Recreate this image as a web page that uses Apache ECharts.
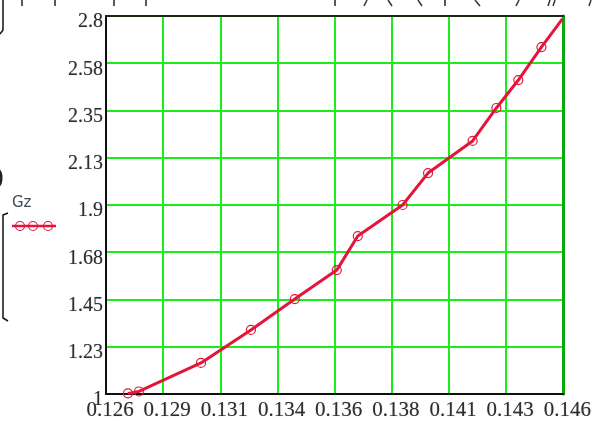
<!DOCTYPE html>
<html>
<head>
<meta charset="utf-8">
<script src="https://cdn.jsdelivr.net/npm/echarts@6/dist/echarts.min.js"></script>
<style>
html,body{margin:0;padding:0;background:#fff;}
#c{width:594px;height:430px;}
</style>
</head>
<body>
<div id="c"></div>
<script>
// ---- data ----
var gzX = [0.12714, 0.12761, 0.13027, 0.13241, 0.13429, 0.13609, 0.13699, 0.13891, 0.14000, 0.14191, 0.14293, 0.14387, 0.14486, 0.14576];
var gzY = [1.003, 1.012, 1.148, 1.305, 1.452, 1.590, 1.752, 1.900, 2.052, 2.205, 2.362, 2.495, 2.652, 2.786];
var xTickLabels = ['0.126','0.129','0.131','0.134','0.136','0.138','0.141','0.143','0.146'];
var yTickLabels = ['1','1.23','1.45','1.68','1.9','2.13','2.35','2.58','2.8'];
var seriesName = 'Gz';

var X_MIN = 0.1262, X_MAX = 0.1458, X_INT = 0.00245;
var Y_MIN = 1, Y_MAX = 2.8, Y_INT = 0.225;

var RED = '#e3163a';
var GREEN = '#18ee18';

var data = gzX.map(function (x, i) {
  var item = { value: [x, gzY[i]] };
  if (i === gzX.length - 1) item.symbol = 'none';
  return item;
});

function xFmt(v) {
  var i = Math.round((v - X_MIN) / X_INT);
  return xTickLabels[i] !== undefined ? xTickLabels[i] : '';
}
function yFmt(v) {
  var i = Math.round((v - Y_MIN) / Y_INT);
  return yTickLabels[i] !== undefined ? yTickLabels[i] : '';
}

var chart = echarts.init(document.getElementById('c'), null, { renderer: 'canvas' });
var labelFont = {
  fontFamily: 'Liberation Serif', color: '#2e2e2e',
  textShadowColor: 'rgba(60,60,60,0.45)', textShadowBlur: 1
};

var option = {
  backgroundColor: '#ffffff',
  animation: false,
  grid: { left: 106, right: 30, top: 16, bottom: 36, containLabel: false },
  xAxis: [{
    type: 'value', min: X_MIN, max: X_MAX, interval: X_INT, position: 'bottom',
    axisLine: { show: true, onZero: false, lineStyle: { color: '#101010', width: 2 } },
    axisTick: { show: false },
    splitLine: { show: true, lineStyle: { color: GREEN, width: 2 } },
    axisLabel: Object.assign({ formatter: xFmt, fontSize: 21, margin: 6, padding: [0, 0, 0, 8] }, labelFont)
  }, {
    type: 'value', min: X_MIN, max: X_MAX, interval: X_INT, position: 'top',
    axisLine: { show: true, onZero: false, lineStyle: { color: '#1a2a14', width: 2 } },
    axisTick: { show: false }, splitLine: { show: false }, axisLabel: { show: false }
  }],
  yAxis: [{
    type: 'value', min: Y_MIN, max: Y_MAX, interval: Y_INT, position: 'left',
    axisLine: { show: true, onZero: false, lineStyle: { color: '#101010', width: 2 } },
    axisTick: { show: false },
    splitLine: { show: true, lineStyle: { color: GREEN, width: 2 } },
    axisLabel: Object.assign({ formatter: yFmt, fontSize: 20, margin: 3, verticalAlign: 'top', lineHeight: 12 }, labelFont)
  }, {
    type: 'value', min: Y_MIN, max: Y_MAX, interval: Y_INT, position: 'right',
    axisLine: { show: true, onZero: false, lineStyle: { color: '#0aa80a', width: 3 } },
    axisTick: { show: false }, splitLine: { show: false }, axisLabel: { show: false }
  }],
  series: [{
    name: seriesName,
    type: 'line',
    xAxisIndex: 0, yAxisIndex: 0,
    data: data,
    symbol: 'circle',
    symbolSize: 9,
    showAllSymbol: true,
    clip: false,
    lineStyle: { color: RED, width: 3 },
    itemStyle: { color: 'rgba(255,255,255,0)', borderColor: RED, borderWidth: 1.2 },
    z: 5
  }],
  graphic: [
    // legend
    { type: 'text', left: 12, top: 196, style: { text: seriesName, font: '15px "DejaVu Sans"', fill: '#3b4a55' } },
    { type: 'line', shape: { x1: 12, y1: 226, x2: 56, y2: 226 }, style: { stroke: RED, lineWidth: 2.5 } },
    { type: 'circle', shape: { cx: 20, cy: 226, r: 4.5 }, style: { fill: 'none', stroke: RED, lineWidth: 1.2 } },
    { type: 'circle', shape: { cx: 33, cy: 226, r: 4.5 }, style: { fill: 'none', stroke: RED, lineWidth: 1.2 } },
    { type: 'circle', shape: { cx: 48, cy: 226, r: 4.5 }, style: { fill: 'none', stroke: RED, lineWidth: 1.2 } },
    // left bracket box
    { type: 'polyline', shape: { points: [[8, 213], [3, 215], [3, 318], [8, 321]] }, style: { stroke: '#111', lineWidth: 1.5, fill: 'none' } },
    // upper cropped box
    { type: 'polyline', shape: { points: [[3, 0], [3, 30], [0, 34]] }, style: { stroke: '#111', lineWidth: 1.5, fill: 'none' } },
    { type: 'text', left: -5, top: 164, style: { text: ')', font: '26px "Liberation Serif"', fill: '#222' } },
    // cropped glyph remnants along top edge
    { type: 'line', shape: { x1: 22, y1: 0, x2: 22, y2: 6 }, style: { stroke: '#222', lineWidth: 1.5 } },
    { type: 'line', shape: { x1: 55, y1: 0, x2: 55, y2: 6 }, style: { stroke: '#222', lineWidth: 1.5 } },
    { type: 'line', shape: { x1: 114, y1: 0, x2: 114, y2: 6 }, style: { stroke: '#222', lineWidth: 1.5 } },
    { type: 'line', shape: { x1: 146, y1: 0, x2: 146, y2: 6 }, style: { stroke: '#222', lineWidth: 1.5 } },
    { type: 'line', shape: { x1: 335, y1: 0, x2: 335, y2: 6 }, style: { stroke: '#222', lineWidth: 1.5 } },
    { type: 'line', shape: { x1: 367, y1: 0, x2: 364, y2: 6 }, style: { stroke: '#333', lineWidth: 1.5 } },
    { type: 'line', shape: { x1: 388, y1: 0, x2: 392, y2: 6 }, style: { stroke: '#333', lineWidth: 1.5 } },
    { type: 'line', shape: { x1: 418, y1: 0, x2: 422, y2: 6 }, style: { stroke: '#333', lineWidth: 1.5 } },
    { type: 'line', shape: { x1: 445, y1: 0, x2: 445, y2: 6 }, style: { stroke: '#222', lineWidth: 1.5 } },
    { type: 'line', shape: { x1: 475, y1: 0, x2: 480, y2: 6 }, style: { stroke: '#333', lineWidth: 1.5 } },
    { type: 'line', shape: { x1: 519, y1: 0, x2: 516, y2: 6 }, style: { stroke: '#333', lineWidth: 1.5 } },
    { type: 'line', shape: { x1: 550, y1: 0, x2: 548, y2: 6 }, style: { stroke: '#333', lineWidth: 1.5 } },
    { type: 'line', shape: { x1: 555, y1: 0, x2: 553, y2: 6 }, style: { stroke: '#333', lineWidth: 1.5 } },
    { type: 'line', shape: { x1: 591, y1: 0, x2: 589, y2: 6 }, style: { stroke: '#333', lineWidth: 1.5 } }
  ]
};
chart.setOption(option);
</script>
</body>
</html>
